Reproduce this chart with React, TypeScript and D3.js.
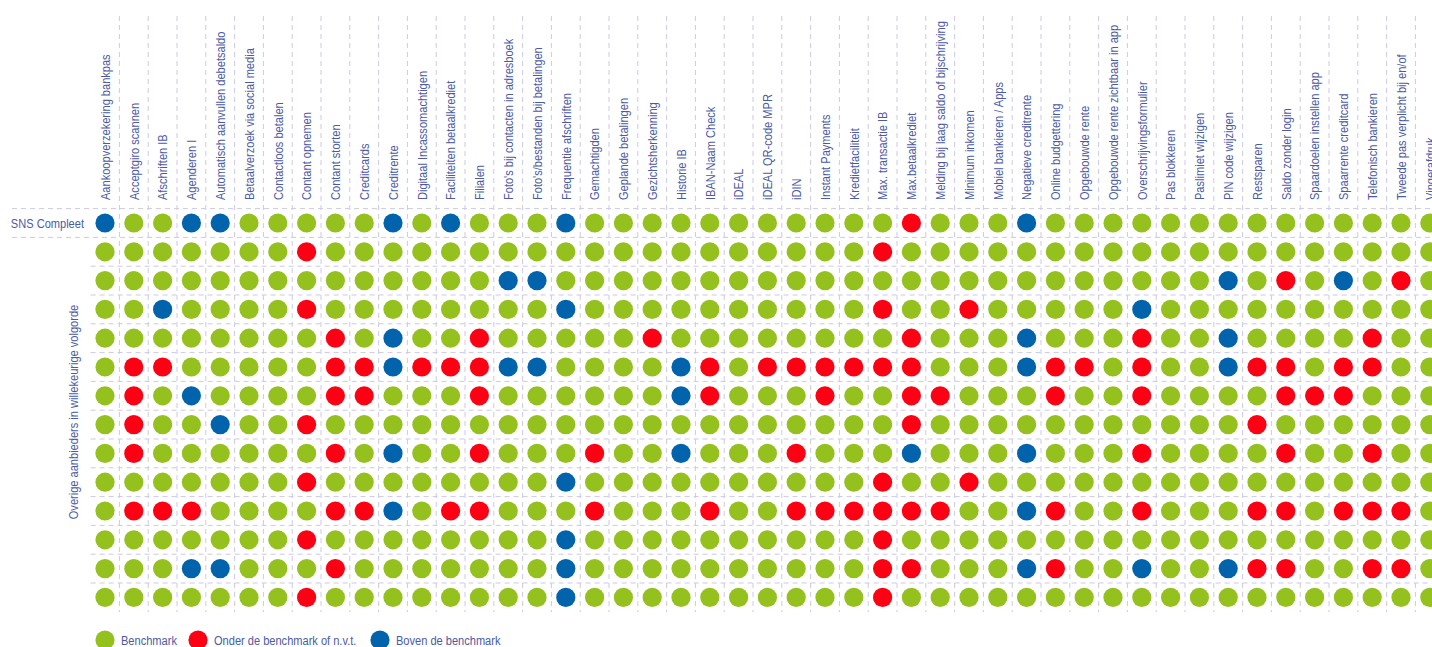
import { useEffect, useRef } from "react";
import * as d3 from "d3";

const categories = [
  "Aankoopverzekering bankpas", "Acceptgiro scannen", "Afschriften IB", "Agenderen I",
  "Automatisch aanvullen debetsaldo", "Betaalverzoek via social media", "Contactloos betalen",
  "Contant opnemen", "Contant storten", "Creditcards", "Creditrente", "Digitaal Incassomachtigen",
  "Faciliteiten betaalkrediet", "Filialen", "Foto's bij contacten in adresboek",
  "Foto's/bestanden bij betalingen", "Frequentie afschriften", "Gemachtigden", "Geplande betalingen",
  "Gezichtsherkenning", "Historie IB", "IBAN-Naam Check", "iDEAL", "iDEAL QR-code MPR", "iDIN",
  "Instant Payments", "Kredietfaciliteit", "Max. transactie IB", "Max.betaalkrediet",
  "Melding bij laag saldo of bijschrijving", "Minimum inkomen", "Mobiel bankieren / Apps",
  "Negatieve creditrente", "Online budgettering", "Opgebouwde rente",
  "Opgebouwde rente zichtbaar in app", "Overschrijvingsformulier", "Pas blokkeren",
  "Paslimiet wijzigen", "PIN code wijzigen", "Restsparen", "Saldo zonder login",
  "Spaardoelen instellen app", "Spaarrente creditcard", "Telefonisch bankieren",
  "Tweede pas verplicht bij en/of", "Vingerafdruk",
];

const providers = ["SNS Compleet", "p1", "p2", "p3", "p4", "p5", "p6", "p7", "p8", "p9", "p10", "p11", "p12", "p13"];

// G = benchmark, R = onder, B = boven (one letter per category)
const scores = [
  "BGGBB GGGGG BGBGG GBGGG GGGGG GGGRG GGBGG GGGGG GGGGG GG",
  "GGGGG GGRGG GGGGG GGGGG GGGGG GGRGG GGGGG GGGGG GGGGG GG",
  "GGGGG GGGGG GGGGB BGGGG GGGGG GGGGG GGGGG GGGGB GRGBG RG",
  "GGBGG GGRGG GGGGG GBGGG GGGGG GGRGG RGGGG GBGGG GGGGG GG",
  "GGGGG GGGRG BGGRG GGGGR GGGGG GGGRG GGBGG GRGGB GGGGR GG",
  "GRRGG GGGRR BRRRB BGGGG BRGRR RRRRG GGBRR GRGGB RRGRR GG",
  "GRGBG GGGRR GGGRG GGGGG BRGGG RGGRR GGGRG GRGGG GRRRG GG",
  "GRGGB GGRGG GGGGG GGGGG GGGGG GGGRG GGGGG GGGGG RGGGG GG",
  "GRGGG GGGRG BGGRG GGRGG BGGGR GGGBG GGBGG GRGGG GRGGR GG",
  "GGGGG GGRGG GGGGG GBGGG GGGGG GGRGG RGGGG GGGGG GGGGG GG",
  "GRRRG GGGRR BGRRG GGRGG GRGGR RRRRR GGBRG GRGGG RRGRR RG",
  "GGGGG GGRGG GGGGG GBGGG GGGGG GGRGG GGGGG GGGGG GGGGG GG",
  "GGGBB GGGRG GGGGG GBGGG GGGGG GGRRG GGBRG GBGGB RRGGR RG",
  "GGGGG GGRGG GGGGG GBGGG GGGGG GGRGG GGGGG GGGGG GGGGG GG",
];

const legendKeys = ["G", "R", "B"];
const legendLabels = ["Benchmark", "Onder de benchmark of n.v.t.", "Boven de benchmark"];

const colors: Record<string, string> = { G: "#95c11f", R: "#fe0014", B: "#0063ab" };
const textColor = "#4b5aa5";
const gridColor = "#cdc9e8";
const font = "'Liberation Sans', Arial, sans-serif";
const fs = 13.5;
const narrow = 0.82; // squeeze Liberation Sans into a condensed look

const App = () => {
  const ref = useRef<SVGSVGElement>(null);
  const width = 1432;
  const height = 647;

  useEffect(() => {
    document.body.style.margin = "0";
    const svg = d3.select(ref.current);
    svg.selectAll("*").remove();

    const x = d3.scaleBand().domain(categories).range([90.6, 90.6 + categories.length * 28.8]);
    const y = d3.scaleBand().domain(providers).range([208.6, 208.6 + providers.length * 28.8]);
    const bw = x.bandwidth();
    const bh = y.bandwidth();
    const cx = (c: string) => (x(c) as number) + bw / 2;
    const cy = (p: string) => (y(p) as number) + bh / 2;

    const grid = svg.append("g")
      .attr("stroke", gridColor)
      .attr("stroke-width", 1)
      .attr("stroke-dasharray", "5,4");

    grid.selectAll(".vline")
      .data(categories)
      .join("line")
      .attr("x1", d => (x(d) as number) + bw)
      .attr("x2", d => (x(d) as number) + bw)
      .attr("y1", 16)
      .attr("y2", 612);

    grid.selectAll(".hline")
      .data(providers)
      .join("line")
      .attr("x1", (d, i) => (i < 2 ? 12 : 90.6))
      .attr("x2", width)
      .attr("y1", d => y(d) as number)
      .attr("y2", d => y(d) as number);

    const txt = svg.append("g")
      .attr("font-family", font)
      .attr("font-size", fs)
      .attr("fill", textColor);

    txt.selectAll(".col")
      .data(categories)
      .join("text")
      .attr("transform", d => `translate(${cx(d)},200) rotate(-90) scale(${narrow},1)`)
      .attr("dy", "0.35em")
      .text(d => d);

    txt.append("text")
      .attr("transform", `translate(84,${cy(providers[0])}) scale(${narrow},1)`)
      .attr("dy", "0.35em")
      .attr("text-anchor", "end")
      .text(providers[0]);

    txt.append("text")
      .attr("transform", `translate(73,412) rotate(-90) scale(${narrow},1)`)
      .attr("dy", "0.35em")
      .attr("text-anchor", "middle")
      .text("Overige aanbieders in willekeurige volgorde");

    const cells = providers.flatMap((p, i) =>
      scores[i].replace(/ /g, "").split("").map((s, j) => ({ p, c: categories[j], s }))
    );

    svg.append("g")
      .selectAll("circle")
      .data(cells)
      .join("circle")
      .attr("cx", d => cx(d.c))
      .attr("cy", d => cy(d.p))
      .attr("r", 9.6)
      .attr("fill", d => colors[d.s]);

    const legendX = [105, 198, 380];
    const legend = svg.append("g")
      .selectAll("g")
      .data(legendKeys)
      .join("g")
      .attr("transform", (d, i) => `translate(${legendX[i]},640)`);
    legend.append("circle").attr("r", 9.6).attr("fill", d => colors[d]);
    legend.append("text")
      .attr("transform", `translate(16,0) scale(${narrow},1)`)
      .attr("dy", "0.35em")
      .attr("font-family", font)
      .attr("font-size", fs)
      .attr("fill", textColor)
      .text((d, i) => legendLabels[i]);
  }, []);

  return (
    <svg ref={ref} width={width} height={height} style={{ position: "absolute", left: 0, top: 0 }} />
  );
};

export default App;
